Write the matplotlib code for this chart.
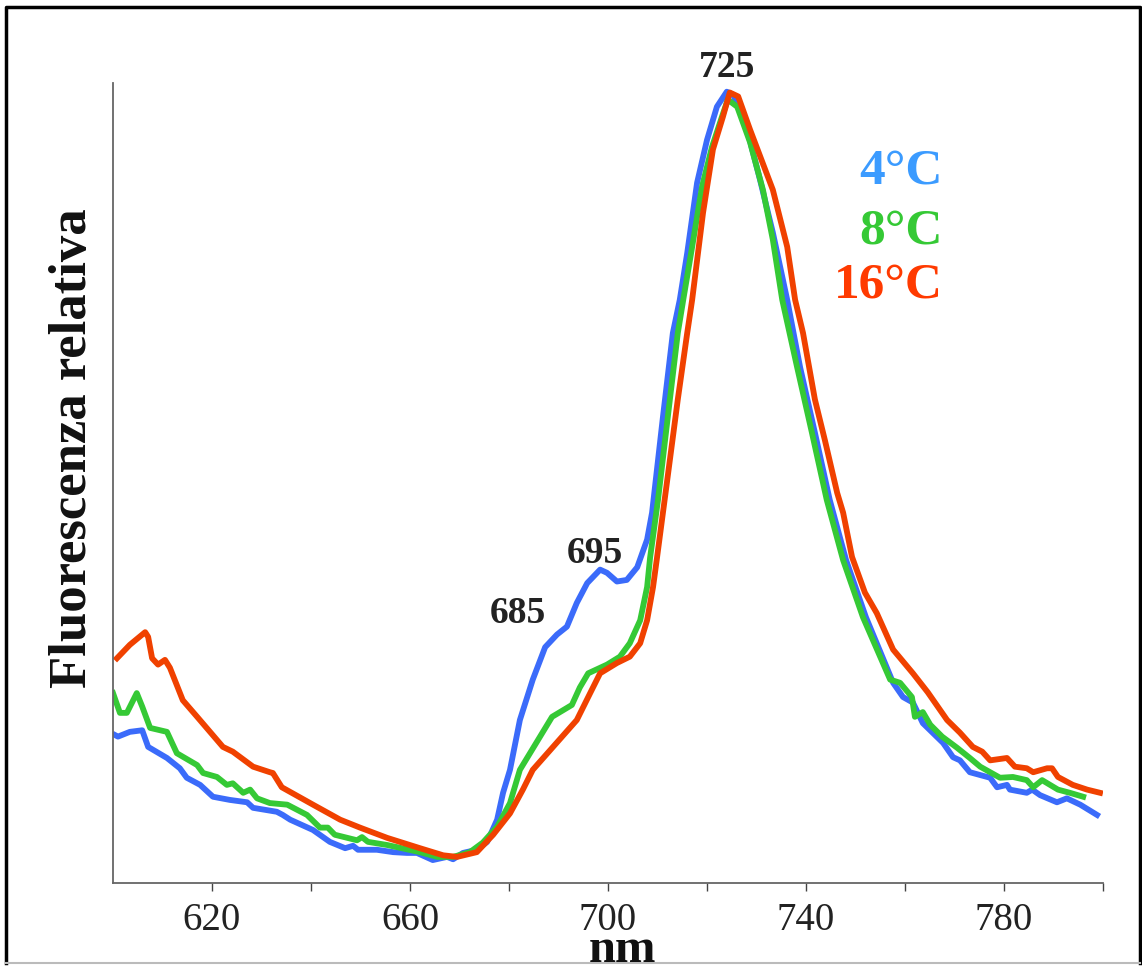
import matplotlib.pyplot as plt
from matplotlib.lines import Line2D

# spectra (nm, relative fluorescence)
nm_4c = [600.4, 601.0, 603.4, 605.9, 607.1, 610.9, 613.5, 614.9, 617.6, 620.2, 623.6, 627.1,
         628.3, 633.1, 634.3, 635.8, 640.4, 643.8, 646.9, 648.5, 649.5, 653.3, 656.6, 659.4,
         661.4, 664.6, 667.5, 668.7, 670.7, 673.5, 675.6, 677.6, 678.8, 680.2, 682.2, 684.8,
         687.3, 689.7, 691.7, 693.7, 695.8, 698.4, 699.8, 701.8, 703.8, 705.9, 707.9, 708.9,
         711.1, 713.1, 714.5, 716.0, 718.0, 720.0, 722.0, 724.0, 725.3, 728.1, 730.7, 733.3,
         736.2, 738.8, 741.8, 744.8, 748.1, 752.1, 757.6, 759.6, 761.6, 763.6, 767.7, 769.7,
         771.1, 773.1, 777.2, 778.6, 780.6, 781.2, 784.6, 785.7, 787.3, 790.7, 792.7, 795.4,
         798.8]
f_4c = [0.187, 0.185, 0.191, 0.193, 0.172, 0.158, 0.145, 0.133, 0.124, 0.109, 0.105, 0.102,
        0.095, 0.090, 0.086, 0.080, 0.067, 0.052, 0.044, 0.047, 0.042, 0.042, 0.039, 0.038,
        0.038, 0.029, 0.033, 0.030, 0.038, 0.042, 0.052, 0.080, 0.114, 0.143, 0.206, 0.257,
        0.298, 0.314, 0.324, 0.354, 0.379, 0.396, 0.392, 0.381, 0.383, 0.399, 0.434, 0.468,
        0.589, 0.695, 0.737, 0.796, 0.885, 0.939, 0.981, 1.000, 0.996, 0.952, 0.889, 0.822,
        0.737, 0.652, 0.569, 0.484, 0.408, 0.336, 0.253, 0.235, 0.228, 0.202, 0.177, 0.159,
        0.155, 0.140, 0.133, 0.121, 0.124, 0.118, 0.114, 0.118, 0.111, 0.102, 0.107, 0.099,
        0.086]

nm_8c = [600.0, 601.4, 602.8, 604.8, 605.9, 607.5, 610.9, 612.9, 617.0, 618.2, 621.0, 623.0,
         624.2, 626.3, 627.7, 629.1, 631.7, 635.2, 639.2, 641.8, 643.4, 644.8, 649.3, 650.3,
         651.5, 655.4, 662.0, 665.5, 668.7, 672.1, 674.7, 677.6, 680.2, 682.2, 688.7, 690.3,
         692.7, 694.3, 696.0, 699.8, 702.4, 704.4, 706.5, 707.9, 708.5, 710.1, 712.5, 714.1,
         715.2, 717.0, 719.0, 721.0, 723.0, 724.2, 726.1, 728.7, 731.3, 733.3, 735.2, 738.2,
         741.2, 744.2, 747.5, 751.5, 757.0, 759.0, 761.4, 762.0, 763.6, 765.1, 767.5, 770.5,
         773.1, 775.2, 779.2, 781.8, 784.6, 785.9, 787.7, 790.9, 793.3, 796.0]
f_8c = [0.240, 0.215, 0.215, 0.240, 0.223, 0.196, 0.191, 0.164, 0.149, 0.139, 0.134, 0.124,
        0.126, 0.114, 0.118, 0.107, 0.101, 0.099, 0.086, 0.070, 0.070, 0.061, 0.054, 0.058,
        0.052, 0.048, 0.039, 0.033, 0.033, 0.039, 0.051, 0.071, 0.101, 0.143, 0.210, 0.216,
        0.225, 0.247, 0.265, 0.276, 0.286, 0.303, 0.332, 0.374, 0.411, 0.484, 0.611, 0.695,
        0.737, 0.804, 0.880, 0.930, 0.968, 0.990, 0.981, 0.936, 0.876, 0.813, 0.737, 0.652,
        0.569, 0.484, 0.408, 0.336, 0.257, 0.253, 0.235, 0.210, 0.216, 0.200, 0.185, 0.171,
        0.158, 0.147, 0.133, 0.134, 0.130, 0.121, 0.130, 0.118, 0.114, 0.109]

nm_16c = [600.8, 603.4, 606.5, 607.1, 607.9, 609.1, 610.5, 611.5, 614.1, 617.0, 622.2, 624.2,
          628.3, 631.7, 632.3, 634.1, 640.4, 645.9, 649.9, 655.4, 662.0, 666.7, 669.5, 673.5,
          676.8, 680.2, 682.8, 684.8, 693.7, 696.4, 698.4, 701.8, 704.4, 706.5, 707.9, 709.1,
          709.9, 711.9, 714.1, 716.0, 717.0, 719.2, 721.2, 723.2, 724.6, 726.3, 728.7, 733.3,
          736.2, 737.8, 739.4, 741.8, 743.8, 746.3, 747.5, 749.3, 751.9, 754.3, 757.6, 761.6,
          764.6, 768.5, 771.1, 773.7, 775.6, 777.2, 780.6, 782.2, 784.6, 785.9, 788.7, 789.7,
          790.9, 793.9, 796.8, 799.4]
f_16c = [0.284, 0.301, 0.317, 0.311, 0.284, 0.276, 0.282, 0.272, 0.231, 0.210, 0.172, 0.166,
         0.147, 0.140, 0.139, 0.121, 0.099, 0.080, 0.070, 0.057, 0.044, 0.035, 0.033, 0.039,
         0.061, 0.088, 0.118, 0.143, 0.206, 0.240, 0.265, 0.278, 0.286, 0.303, 0.332, 0.374,
         0.411, 0.506, 0.611, 0.695, 0.737, 0.847, 0.927, 0.968, 0.999, 0.994, 0.952, 0.876,
         0.804, 0.737, 0.695, 0.611, 0.560, 0.493, 0.468, 0.412, 0.367, 0.341, 0.295, 0.265,
         0.241, 0.206, 0.190, 0.172, 0.166, 0.155, 0.158, 0.147, 0.145, 0.140, 0.145, 0.145,
         0.134, 0.124, 0.118, 0.114]

xticks = [620, 640, 660, 680, 700, 720, 740, 760, 780, 800]
xticklabels = ['620', '', '660', '', '700', '', '740', '', '780', '']

# peak labels (nm position, height)
peaks = [('725', 724.0, 1.018), ('695', 697.4, 0.405), ('685', 681.8, 0.329)]

plt.rcParams['font.family'] = ['Liberation Serif', 'DejaVu Serif']

fig = plt.figure(figsize=(11.42, 9.66), dpi=100)
ax = fig.add_axes([113 / 1142, 83 / 966, 990 / 1142, 800 / 966])

lw = 4.2
ax.plot(nm_4c, f_4c, color='#3b6bfa', lw=lw, solid_joinstyle='round')
ax.plot(nm_8c, f_8c, color='#35c935', lw=lw, solid_joinstyle='round')
ax.plot(nm_16c, f_16c, color='#f04100', lw=lw, solid_joinstyle='round')

ax.set_xlim(600, 800)
ax.set_ylim(0, 1.011)
ax.set_xticks(xticks)
ax.set_xticklabels(xticklabels)
ax.set_yticks([])
ax.tick_params(axis='x', direction='out', length=6, width=1, color='#444444',
               labelsize=28, pad=8, labelcolor='#222222')
for side in ['top', 'right']:
    ax.spines[side].set_visible(False)
for side in ['left', 'bottom']:
    ax.spines[side].set_color('#666666')
    ax.spines[side].set_linewidth(1.3)

for txt, x, y in peaks:
    ax.text(x, y, txt, ha='center', va='baseline', fontsize=27, fontweight='bold',
            color='#222222', clip_on=False)

# temperature labels
fig.text(943 / 1142, 1 - 183 / 966, '4°C', ha='right', va='baseline', fontsize=37,
         fontweight='bold', color='#3b9bff')
fig.text(943 / 1142, 1 - 243 / 966, '8°C', ha='right', va='baseline', fontsize=37,
         fontweight='bold', color='#35c935')
fig.text(943 / 1142, 1 - 298 / 966, '16°C', ha='right', va='baseline', fontsize=37,
         fontweight='bold', color='#ff3a00')

fig.text(73 / 1142, 1 - 448 / 966, 'Fluorescenza relativa', rotation=90, ha='center',
         va='center', fontsize=38, fontweight='bold', color='#111111')
fig.text(623 / 1142, 1 - 962 / 966, 'nm', ha='center', va='baseline', fontsize=35,
         fontweight='bold', color='#111111')

# outer frame
fx = [6 / 1142, 1140 / 1142]
fy = [3 / 966, 959 / 966]
fig.add_artist(Line2D([fx[0], fx[0], fx[1], fx[1]], [fy[0], fy[1], fy[1], fy[0]],
                      color='black', lw=2.5, transform=fig.transFigure))
fig.add_artist(Line2D([fx[0], fx[1]], [fy[0], fy[0]], color='#bbbbbb', lw=1.5,
                      transform=fig.transFigure))

fig.savefig('out.png', dpi=100)
